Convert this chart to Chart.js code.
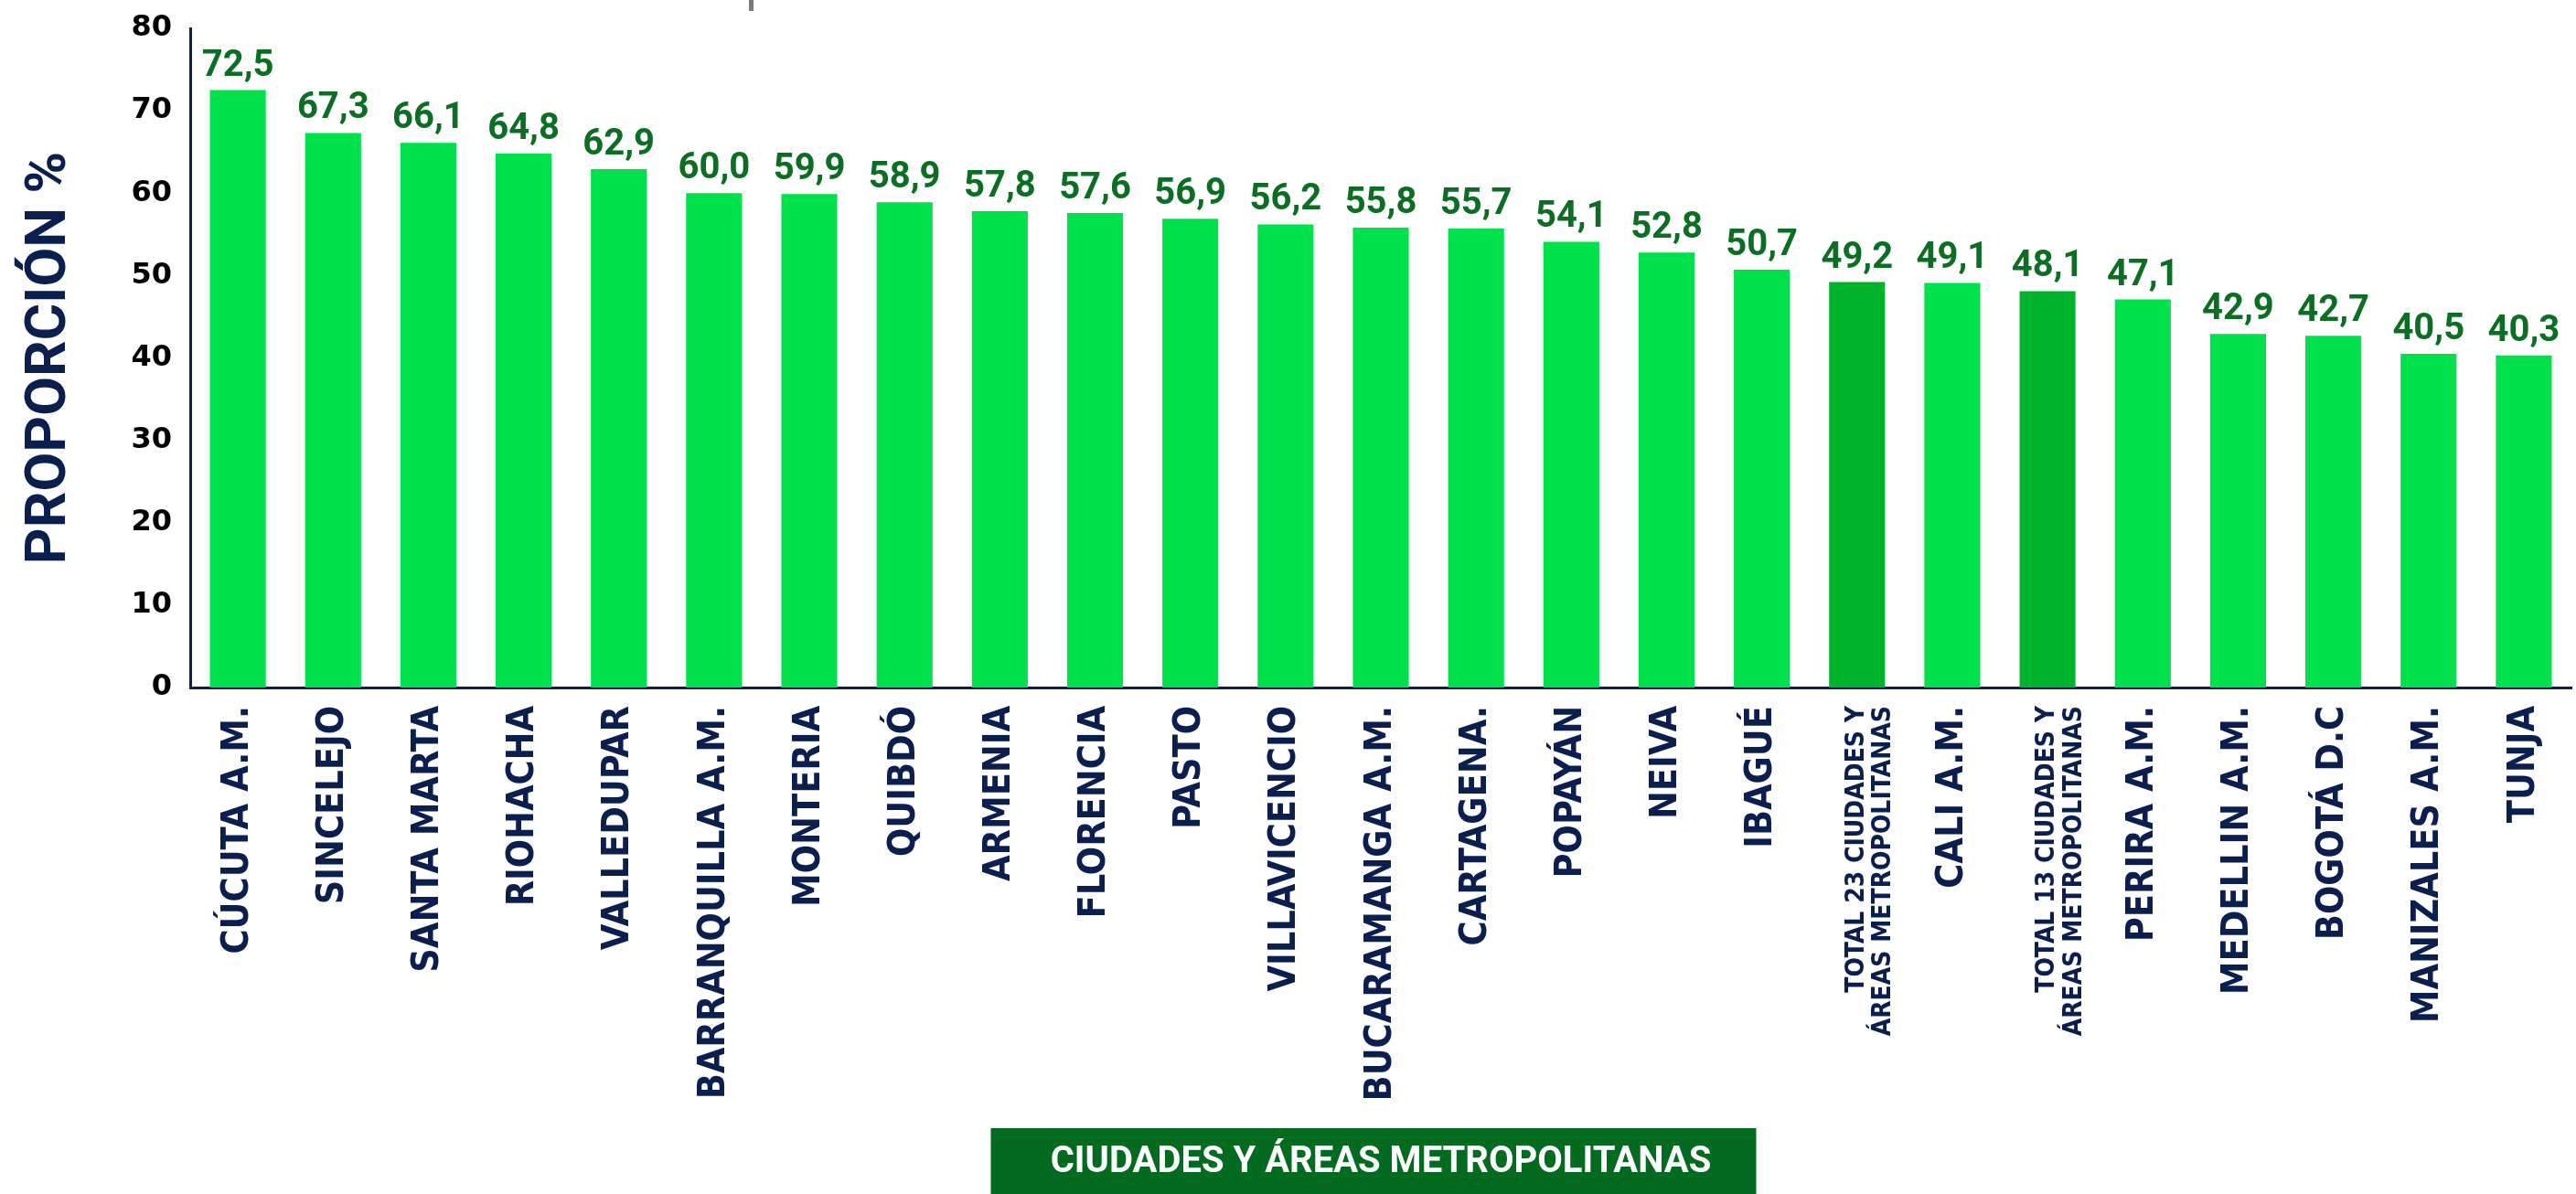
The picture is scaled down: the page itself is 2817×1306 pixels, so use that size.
<!DOCTYPE html>
<html>
<head>
<meta charset="utf-8">
<script src="https://cdn.jsdelivr.net/npm/chart.js@4.4.1/dist/chart.umd.min.js"></script>
<style>
    html, body { margin: 0; padding: 0; background: #ffffff; }
    #wrap { width: 2817px; height: 1306px; position: relative; }
</style>
</head>
<body>
<div id="wrap"><canvas id="propChart"></canvas></div>
<script>
var ciudades = [
    'CÚCUTA A.M.', 'SINCELEJO', 'SANTA MARTA', 'RIOHACHA', 'VALLEDUPAR',
    'BARRANQUILLA A.M.', 'MONTERIA', 'QUIBDÓ', 'ARMENIA', 'FLORENCIA',
    'PASTO', 'VILLAVICENCIO', 'BUCARAMANGA A.M.', 'CARTAGENA.', 'POPAYÁN',
    'NEIVA', 'IBAGUÉ', ['TOTAL 23 CIUDADES Y', 'ÁREAS METROPOLITANAS'], 'CALI A.M.',
    ['TOTAL 13 CIUDADES Y', 'ÁREAS METROPOLITANAS'], 'PERIRA A.M.', 'MEDELLIN A.M.',
    'BOGOTÁ D.C', 'MANIZALES A.M.', 'TUNJA'
];
var proporcion = [
    72.5, 67.3, 66.1, 64.8, 62.9, 60.0, 59.9, 58.9, 57.8, 57.6,
    56.9, 56.2, 55.8, 55.7, 54.1, 52.8, 50.7, 49.2, 49.1, 48.1,
    47.1, 42.9, 42.7, 40.5, 40.3
];
var yTicks = [0, 10, 20, 30, 40, 50, 60, 70, 80];

document.addEventListener("DOMContentLoaded", function () {
    var ctx = document.getElementById('propChart').getContext('2d');

    var navy = '#0b1f4f';
    var verde = '#00e14b';
    var verdeTotal = '#00b32c';
    var verdeTexto = '#0b6e23';
    var labelFont = "'Liberation Sans Narrow', 'DejaVu Sans Condensed', Roboto, sans-serif";

    // etiquetas de valor encima de cada barra
    var valueLabels = {
        id: 'valueLabels',
        afterDatasetsDraw: function (chart) {
            var c = chart.ctx;
            var meta = chart.getDatasetMeta(0);
            c.save();
            c.font = 'bold 40px Roboto';
            c.fillStyle = verdeTexto;
            c.textAlign = 'center';
            c.textBaseline = 'alphabetic';
            meta.data.forEach(function (bar, i) {
                var txt = proporcion[i].toFixed(1).replace('.', ',');
                c.fillText(txt, bar.x, bar.y - 16);
            });
            c.restore();
        }
    };

    // caja verde detras del titulo del eje x
    var titleBox = {
        id: 'titleBox',
        beforeDraw: function (chart) {
            var c = chart.ctx;
            var area = chart.chartArea;
            var cx = (area.left + area.right) / 2 - 8;
            var w = 837;
            c.save();
            c.fillStyle = '#036b1f';
            c.fillRect(cx - w / 2, chart.height - 72, w, 72);
            c.fillStyle = '#7a7a7a';
            c.fillRect(819, 0, 5, 12);
            c.restore();
        }
    };

    new Chart(ctx, {
        type: 'bar',
        data: {
            labels: ciudades,
            datasets: [{
                label: 'Proporción %',
                data: proporcion,
                backgroundColor: function (context) {
                    return Array.isArray(ciudades[context.dataIndex]) ? verdeTotal : verde;
                },
                categoryPercentage: 1,
                barPercentage: 0.587
            }]
        },
        options: {
            responsive: true,
            maintainAspectRatio: false,
            animation: false,
            layout: {
                padding: { top: 31, right: 5, left: 0, bottom: 0 }
            },
            scales: {
                x: {
                    grid: { display: false, drawTicks: false },
                    border: { display: true, color: navy, width: 3 },
                    ticks: {
                        autoSkip: false,
                        maxRotation: 90,
                        minRotation: 90,
                        padding: 20,
                        color: navy,
                        font: function (context) {
                            if (Array.isArray(ciudades[context.index])) {
                                return { family: labelFont, size: 28, weight: 'bold', lineHeight: 1.05 };
                            }
                            return { family: labelFont, size: 41, weight: 'bold', lineHeight: 0.5 };
                        }
                    },
                    title: {
                        display: true,
                        text: 'CIUDADES Y ÁREAS METROPOLITANAS',
                        color: '#ffffff',
                        font: { family: 'Roboto', size: 40, weight: 'bold', lineHeight: 1.2 },
                        padding: { top: 0, bottom: 10 }
                    },
                    afterFit: function (scale) {
                        scale.height = 554;
                    }
                },
                y: {
                    min: 0,
                    max: 80,
                    grid: { display: false, drawTicks: false },
                    border: { display: true, color: navy, width: 3 },
                    afterBuildTicks: function (scale) {
                        scale.ticks = yTicks.map(function (v) { return { value: v }; });
                    },
                    ticks: {
                        padding: 20,
                        color: '#000000',
                        font: { family: 'DejaVu Sans', size: 32, weight: 'bold', lineHeight: 0.45 }
                    },
                    title: {
                        display: true,
                        text: 'PROPORCIÓN %',
                        color: navy,
                        font: { family: 'Roboto', size: 62, weight: 'bold', lineHeight: 1.2 },
                        padding: { top: 18, bottom: 0 }
                    },
                    afterFit: function (scale) {
                        scale.width = 208;
                    }
                }
            },
            plugins: {
                legend: { display: false },
                tooltip: { enabled: false }
            }
        },
        plugins: [titleBox, valueLabels]
    });
});
</script>
</body>
</html>
